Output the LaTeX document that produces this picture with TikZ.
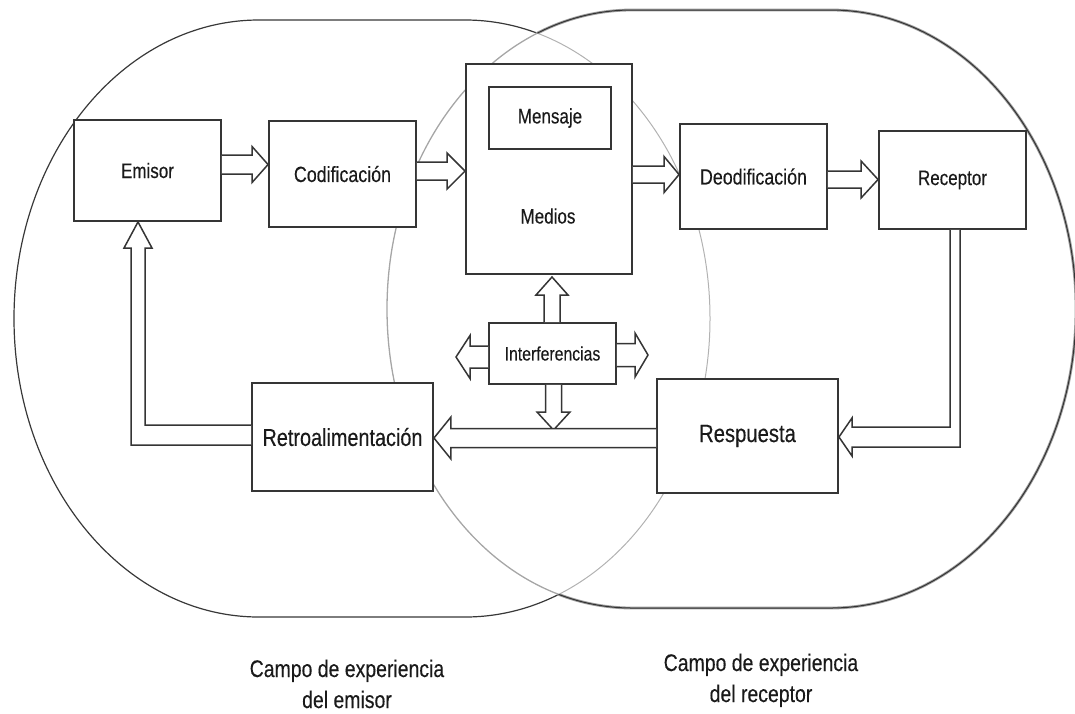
\documentclass[tikz,border=0pt]{standalone}
\usepackage{fontspec}
\setmainfont{Liberation Sans}[FakeStretch=0.81,FakeBold=0.25]
\usetikzlibrary{calc}

\definecolor{boxc}{HTML}{353535}
\definecolor{txtc}{HTML}{1A1A1A}

\newcommand\LShape{(259,20) -- (465,20) .. controls (600.3,20) and (710,153.6) .. (710,318.5) .. controls (710,483.4) and (600.3,617) .. (465,617) -- (259,617) .. controls (123.7,617) and (14,483.4) .. (14,318.5) .. controls (14,153.6) and (123.7,20) .. (259,20) -- cycle}
\newcommand\RShape{(632,10) -- (831,10) .. controls (966.3,10) and (1076,143.9) .. (1076,309) .. controls (1076,474.1) and (966.3,608) .. (831,608) -- (632,608) .. controls (496.7,608) and (387,474.1) .. (387,309) .. controls (387,143.9) and (496.7,10) .. (632,10) -- cycle}
\newcommand\FrameBox{(-20,-20) -- (-20,740) -- (1100,740) -- (1100,-20) -- cycle}

% block arrows: #1 start coordinate, #2 tip coordinate, #3 shaft half width, #4 head half width, #5 head length
\newcommand\blockR[5]{\draw[barrow] ($(#1)+(0,-#3)$) -- ($(#2)+(-#5,-#3)$) -- ($(#2)+(-#5,-#4)$) -- (#2) -- ($(#2)+(-#5,#4)$) -- ($(#2)+(-#5,#3)$) -- ($(#1)+(0,#3)$);}
\newcommand\blockL[5]{\draw[barrow] ($(#1)+(0,-#3)$) -- ($(#2)+(#5,-#3)$) -- ($(#2)+(#5,-#4)$) -- (#2) -- ($(#2)+(#5,#4)$) -- ($(#2)+(#5,#3)$) -- ($(#1)+(0,#3)$);}
\newcommand\blockU[5]{\draw[barrow] ($(#1)+(-#3,0)$) -- ($(#2)+(-#3,#5)$) -- ($(#2)+(-#4,#5)$) -- (#2) -- ($(#2)+(#4,#5)$) -- ($(#2)+(#3,#5)$) -- ($(#1)+(#3,0)$);}
\newcommand\blockD[5]{\draw[barrow] ($(#1)+(-#3,0)$) -- ($(#2)+(-#3,-#5)$) -- ($(#2)+(-#4,-#5)$) -- (#2) -- ($(#2)+(#4,-#5)$) -- ($(#2)+(#3,-#5)$) -- ($(#1)+(#3,0)$);}

\begin{document}
\begin{tikzpicture}[x=1pt, y=-1pt,
  box/.style={draw=boxc, line width=1.9, fill=white, inner sep=0pt, text=txtc},
  lbl/.style={inner sep=0pt, text=txtc},
  barrow/.style={draw=boxc, line width=1.5, fill=white, line join=miter},
  outerL/.style={draw=black!78, line width=1.2},
  innerL/.style={draw=black!30, line width=1.0},
  innerR/.style={draw=black!35, line width=1.3},
  outerRa/.style={draw=black!38, line width=2.8},
  outerRb/.style={draw=black!80, line width=1.0},
  fs/.style={font=\fontsize{#1}{#1}\selectfont}]
\useasboundingbox (0,0) rectangle (1075,713);

% fields of experience
\begin{scope}
  \clip \RShape;
  \draw[innerL] \LShape;
\end{scope}
\begin{scope}
  \clip \FrameBox \RShape;
  \draw[outerL] \LShape;
\end{scope}
\begin{scope}
  \clip \LShape;
  \draw[innerR] \RShape;
\end{scope}
\begin{scope}
  \clip \FrameBox \LShape;
  \draw[outerRa] \RShape;
  \draw[outerRb] \RShape;
\end{scope}

% boxes
\node[box, fs=21, minimum width=147, minimum height=101] (emisor) at (147.5,170.5) {Emisor};
\node[box, fs=22, minimum width=147, minimum height=106] (codif) at (342.5,174) {Codificación};
\node[box, minimum width=166, minimum height=210] (medios) at (549,169) {};
\node[box, fs=21, minimum width=122, minimum height=62] (mensaje) at (550,118) {Mensaje};
\node[lbl, fs=21] (mediostxt) at (548,216) {Medios};
\node[box, fs=22, minimum width=147, minimum height=105] (deodif) at (753.5,176.5) {Deodificación};
\node[box, fs=21, minimum width=147, minimum height=98] (receptor) at (952.5,180) {Receptor};
\node[box, fs=19.5, minimum width=127, minimum height=61] (interf) at (552.5,353.5) {Interferencias};
\node[box, fs=24.5, minimum width=181, minimum height=108] (retro) at (342.5,437) {Retroalimentación};
\node[box, fs=25, minimum width=181, minimum height=114] (resp) at (747.5,436) {Respuesta};

% labels of the fields
\node[lbl, fs=24, anchor=base] (ce1) at (347,677) {Campo de experiencia};
\node[lbl, fs=24, anchor=base] (ce2) at (347,708) {del emisor};
\node[lbl, fs=24, anchor=base] (cr1) at (761,671) {Campo de experiencia};
\node[lbl, fs=24, anchor=base] (cr2) at (761,702) {del receptor};

% straight arrows of the chain
\coordinate (a1s) at (emisor.east |- 0,164.5);
\coordinate (a1t) at (codif.west |- 0,164.5);
\blockR{a1s}{a1t}{9.5}{18}{16}
\coordinate (a2s) at (codif.east |- 0,171);
\coordinate (a2t) at (medios.west |- 0,171);
\blockR{a2s}{a2t}{9}{18}{18}
\coordinate (a3s) at (medios.east |- 0,174.5);
\coordinate (a3t) at (deodif.west |- 0,174.5);
\blockR{a3s}{a3t}{8.5}{18}{15}
\coordinate (a4s) at (deodif.east |- 0,179.5);
\coordinate (a4t) at (receptor.west |- 0,179.5);
\blockR{a4s}{a4t}{8.5}{18.5}{17}

% interference arrows
\coordinate (iu) at (interf.north -| 552,0);
\coordinate (iut) at (552,277);
\blockU{iu}{iut}{8}{16}{18}
\coordinate (id) at (interf.south -| 553.5,0);
\coordinate (idt) at (553.5,430);
\blockD{id}{idt}{8}{16.5}{18}
\coordinate (il) at (interf.west |- 0,357);
\coordinate (ilt) at (456,357);
\blockL{il}{ilt}{11}{21.5}{14}
\coordinate (ir) at (interf.east |- 0,355);
\coordinate (irt) at (648,355);
\blockR{ir}{irt}{11.5}{22}{13}

% Receptor -> Respuesta (elbow)
\coordinate (r5a) at (receptor.south -| 950,0);
\coordinate (r5b) at (receptor.south -| 960,0);
\coordinate (r5t) at (resp.east |- 0,437);
\draw[barrow] (r5a) -- (950,427) -- (852,427) -- (852,418) -- (r5t) -- (852,456) -- (852,447) -- (960,447) -- (r5b);

% Respuesta -> Retroalimentacion
\coordinate (a6s) at (resp.west |- 0,438);
\coordinate (a6t) at (retro.east |- 0,438);
\blockL{a6s}{a6t}{9.5}{21}{17}

% Retroalimentacion -> Emisor (elbow)
\coordinate (f1) at (retro.west |- 0,425);
\coordinate (f2) at (retro.west |- 0,445);
\coordinate (ft) at (emisor.south -| 138,0);
\draw[barrow] (f1) -- (145,425) -- (145,248) -- (152,248) -- (ft) -- (124,248) -- (131,248) -- (131,445) -- (f2);
\end{tikzpicture}
\end{document}
